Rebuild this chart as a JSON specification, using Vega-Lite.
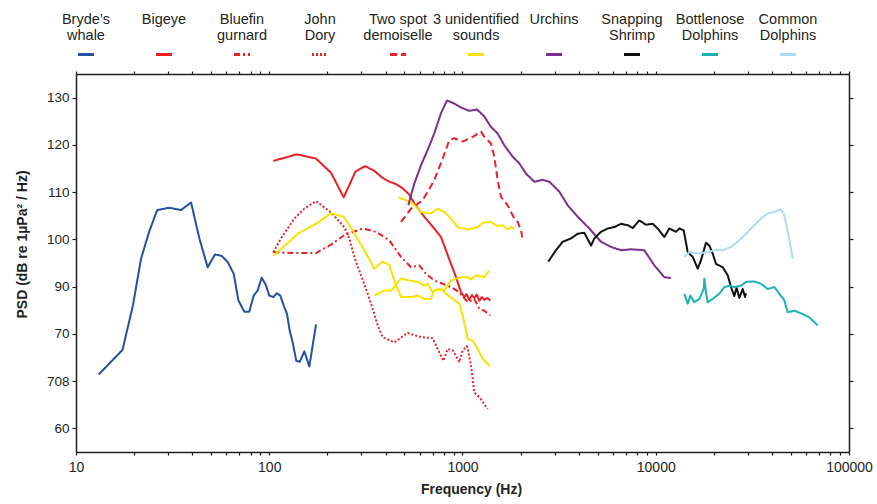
{
  "$schema": "https://vega.github.io/schema/vega-lite/v6.json",
  "padding": {"left": 15, "top": 9, "right": 5, "bottom": 5},
  "config": {"font": "Liberation Sans", "view": {"stroke": null}},
  "spacing": 5,
  "datasets": {
    "legend": [
      {"series": "Bryde’s whale", "label": "Bryde’s\nwhale"},
      {"series": "Bigeye", "label": "Bigeye"},
      {"series": "Bluefin gurnard", "label": "Bluefin\ngurnard"},
      {"series": "John Dory", "label": "John\nDory"},
      {"series": "Two spot demoiselle", "label": "Two spot\ndemoiselle"},
      {"series": "3 unidentified sounds", "label": "3 unidentified\nsounds"},
      {"series": "Urchins", "label": "Urchins"},
      {"series": "Snapping Shrimp", "label": "Snapping\nShrimp"},
      {"series": "Bottlenose Dolphins", "label": "Bottlenose\nDolphins"},
      {"series": "Common Dolphins", "label": "Common\nDolphins"}
    ],
    "curves": [
      {"series": "Bryde’s whale", "seg": "bw", "freq": 13.1, "psd": 71.4},
      {"series": "Bryde’s whale", "seg": "bw", "freq": 17.4, "psd": 76.6},
      {"series": "Bryde’s whale", "seg": "bw", "freq": 19.7, "psd": 86.0},
      {"series": "Bryde’s whale", "seg": "bw", "freq": 21.7, "psd": 95.9},
      {"series": "Bryde’s whale", "seg": "bw", "freq": 23.9, "psd": 101.6},
      {"series": "Bryde’s whale", "seg": "bw", "freq": 26.3, "psd": 106.2},
      {"series": "Bryde’s whale", "seg": "bw", "freq": 30.4, "psd": 106.7},
      {"series": "Bryde’s whale", "seg": "bw", "freq": 34.9, "psd": 106.2},
      {"series": "Bryde’s whale", "seg": "bw", "freq": 39.4, "psd": 107.8},
      {"series": "Bryde’s whale", "seg": "bw", "freq": 43.5, "psd": 100.2},
      {"series": "Bryde’s whale", "seg": "bw", "freq": 48.0, "psd": 94.1},
      {"series": "Bryde’s whale", "seg": "bw", "freq": 52.4, "psd": 96.8},
      {"series": "Bryde’s whale", "seg": "bw", "freq": 56.8, "psd": 96.5},
      {"series": "Bryde’s whale", "seg": "bw", "freq": 61.0, "psd": 95.2},
      {"series": "Bryde’s whale", "seg": "bw", "freq": 65.5, "psd": 92.7},
      {"series": "Bryde’s whale", "seg": "bw", "freq": 69.2, "psd": 87.1},
      {"series": "Bryde’s whale", "seg": "bw", "freq": 74.3, "psd": 84.7},
      {"series": "Bryde’s whale", "seg": "bw", "freq": 78.8, "psd": 84.7},
      {"series": "Bryde’s whale", "seg": "bw", "freq": 83.1, "psd": 88.1},
      {"series": "Bryde’s whale", "seg": "bw", "freq": 87.1, "psd": 89.2},
      {"series": "Bryde’s whale", "seg": "bw", "freq": 91.4, "psd": 91.9},
      {"series": "Bryde’s whale", "seg": "bw", "freq": 95.9, "psd": 90.4},
      {"series": "Bryde’s whale", "seg": "bw", "freq": 100, "psd": 88.1},
      {"series": "Bryde’s whale", "seg": "bw", "freq": 105, "psd": 87.8},
      {"series": "Bryde’s whale", "seg": "bw", "freq": 109.6, "psd": 88.6},
      {"series": "Bryde’s whale", "seg": "bw", "freq": 114, "psd": 88.1},
      {"series": "Bryde’s whale", "seg": "bw", "freq": 118.8, "psd": 86.0},
      {"series": "Bryde’s whale", "seg": "bw", "freq": 123.6, "psd": 84.2},
      {"series": "Bryde’s whale", "seg": "bw", "freq": 127.6, "psd": 80.7},
      {"series": "Bryde’s whale", "seg": "bw", "freq": 132.2, "psd": 78.2},
      {"series": "Bryde’s whale", "seg": "bw", "freq": 138, "psd": 74.3},
      {"series": "Bryde’s whale", "seg": "bw", "freq": 143.8, "psd": 74.1},
      {"series": "Bryde’s whale", "seg": "bw", "freq": 151.9, "psd": 76.3},
      {"series": "Bryde’s whale", "seg": "bw", "freq": 161.2, "psd": 73.1},
      {"series": "Bryde’s whale", "seg": "bw", "freq": 174.6, "psd": 82.0},

      {"series": "Bigeye", "seg": "be", "freq": 105, "psd": 116.6},
      {"series": "Bigeye", "seg": "be", "freq": 139, "psd": 118.0},
      {"series": "Bigeye", "seg": "be", "freq": 174.6, "psd": 117.1},
      {"series": "Bigeye", "seg": "be", "freq": 208.7, "psd": 114.1},
      {"series": "Bigeye", "seg": "be", "freq": 242.8, "psd": 108.9},
      {"series": "Bigeye", "seg": "be", "freq": 278.8, "psd": 114.3},
      {"series": "Bigeye", "seg": "be", "freq": 313, "psd": 115.5},
      {"series": "Bigeye", "seg": "be", "freq": 349.8, "psd": 114.5},
      {"series": "Bigeye", "seg": "be", "freq": 386, "psd": 113.0},
      {"series": "Bigeye", "seg": "be", "freq": 418, "psd": 112.2},
      {"series": "Bigeye", "seg": "be", "freq": 453, "psd": 111.7},
      {"series": "Bigeye", "seg": "be", "freq": 490, "psd": 110.8},
      {"series": "Bigeye", "seg": "be", "freq": 530, "psd": 109.5},
      {"series": "Bigeye", "seg": "be", "freq": 563, "psd": 107.6},
      {"series": "Bigeye", "seg": "be", "freq": 634, "psd": 104.8},
      {"series": "Bigeye", "seg": "be", "freq": 714, "psd": 102.3},
      {"series": "Bigeye", "seg": "be", "freq": 774, "psd": 100.5},
      {"series": "Bigeye", "seg": "be", "freq": 821, "psd": 97.7},
      {"series": "Bigeye", "seg": "be", "freq": 872, "psd": 94.8},
      {"series": "Bigeye", "seg": "be", "freq": 925.7, "psd": 92.0},
      {"series": "Bigeye", "seg": "be", "freq": 982, "psd": 88.8},
      {"series": "Bigeye", "seg": "be", "freq": 1022, "psd": 87.8},
      {"series": "Bigeye", "seg": "be", "freq": 1050, "psd": 88.4},
      {"series": "Bigeye", "seg": "be", "freq": 1084, "psd": 87.2},
      {"series": "Bigeye", "seg": "be", "freq": 1120, "psd": 88.2},
      {"series": "Bigeye", "seg": "be", "freq": 1151, "psd": 87.6},
      {"series": "Bigeye", "seg": "be", "freq": 1185, "psd": 88.3},
      {"series": "Bigeye", "seg": "be", "freq": 1222, "psd": 87.0},
      {"series": "Bigeye", "seg": "be", "freq": 1260, "psd": 87.8},
      {"series": "Bigeye", "seg": "be", "freq": 1297, "psd": 87.2},
      {"series": "Bigeye", "seg": "be", "freq": 1340, "psd": 87.6},
      {"series": "Bigeye", "seg": "be", "freq": 1393, "psd": 87.1},

      {"series": "Bluefin gurnard", "seg": "bg", "freq": 105, "psd": 97.3},
      {"series": "Bluefin gurnard", "seg": "bg", "freq": 134.8, "psd": 97.1},
      {"series": "Bluefin gurnard", "seg": "bg", "freq": 174.6, "psd": 97.1},
      {"series": "Bluefin gurnard", "seg": "bg", "freq": 208.7, "psd": 98.9},
      {"series": "Bluefin gurnard", "seg": "bg", "freq": 244.5, "psd": 100.9},
      {"series": "Bluefin gurnard", "seg": "bg", "freq": 304.5, "psd": 102.3},
      {"series": "Bluefin gurnard", "seg": "bg", "freq": 356.7, "psd": 101.6},
      {"series": "Bluefin gurnard", "seg": "bg", "freq": 418, "psd": 99.8},
      {"series": "Bluefin gurnard", "seg": "bg", "freq": 480.6, "psd": 96.3},
      {"series": "Bluefin gurnard", "seg": "bg", "freq": 541.5, "psd": 94.1},
      {"series": "Bluefin gurnard", "seg": "bg", "freq": 597.6, "psd": 94.5},
      {"series": "Bluefin gurnard", "seg": "bg", "freq": 647.5, "psd": 92.7},
      {"series": "Bluefin gurnard", "seg": "bg", "freq": 714, "psd": 91.3},
      {"series": "Bluefin gurnard", "seg": "bg", "freq": 790, "psd": 90.6},
      {"series": "Bluefin gurnard", "seg": "bg", "freq": 872, "psd": 89.9},
      {"series": "Bluefin gurnard", "seg": "bg", "freq": 963, "psd": 88.8},
      {"series": "Bluefin gurnard", "seg": "bg", "freq": 1064, "psd": 86.7},
      {"series": "Bluefin gurnard", "seg": "bg", "freq": 1151, "psd": 87.4},
      {"series": "Bluefin gurnard", "seg": "bg", "freq": 1222, "psd": 85.3},
      {"series": "Bluefin gurnard", "seg": "bg", "freq": 1297, "psd": 84.9},
      {"series": "Bluefin gurnard", "seg": "bg", "freq": 1393, "psd": 83.9},

      {"series": "John Dory", "seg": "jd", "freq": 105, "psd": 97.3},
      {"series": "John Dory", "seg": "jd", "freq": 115, "psd": 100.2},
      {"series": "John Dory", "seg": "jd", "freq": 134.8, "psd": 104.4},
      {"series": "John Dory", "seg": "jd", "freq": 151.9, "psd": 106.5},
      {"series": "John Dory", "seg": "jd", "freq": 174.6, "psd": 108.1},
      {"series": "John Dory", "seg": "jd", "freq": 208.7, "psd": 105.7},
      {"series": "John Dory", "seg": "jd", "freq": 244.5, "psd": 102.6},
      {"series": "John Dory", "seg": "jd", "freq": 259.5, "psd": 100.2},
      {"series": "John Dory", "seg": "jd", "freq": 281, "psd": 95.2},
      {"series": "John Dory", "seg": "jd", "freq": 298.5, "psd": 92.4},
      {"series": "John Dory", "seg": "jd", "freq": 316.7, "psd": 89.5},
      {"series": "John Dory", "seg": "jd", "freq": 343, "psd": 85.3},
      {"series": "John Dory", "seg": "jd", "freq": 364, "psd": 81.8},
      {"series": "John Dory", "seg": "jd", "freq": 386, "psd": 79.3},
      {"series": "John Dory", "seg": "jd", "freq": 443.6, "psd": 78.2},
      {"series": "John Dory", "seg": "jd", "freq": 520, "psd": 80.2},
      {"series": "John Dory", "seg": "jd", "freq": 610, "psd": 79.3},
      {"series": "John Dory", "seg": "jd", "freq": 701, "psd": 79.1},
      {"series": "John Dory", "seg": "jd", "freq": 744, "psd": 76.8},
      {"series": "John Dory", "seg": "jd", "freq": 795.6, "psd": 74.3},
      {"series": "John Dory", "seg": "jd", "freq": 838, "psd": 76.8},
      {"series": "John Dory", "seg": "jd", "freq": 890, "psd": 76.5},
      {"series": "John Dory", "seg": "jd", "freq": 963, "psd": 74.0},
      {"series": "John Dory", "seg": "jd", "freq": 1002, "psd": 76.5},
      {"series": "John Dory", "seg": "jd", "freq": 1055, "psd": 77.4},
      {"series": "John Dory", "seg": "jd", "freq": 1107, "psd": 73.3},
      {"series": "John Dory", "seg": "jd", "freq": 1151, "psd": 67.6},
      {"series": "John Dory", "seg": "jd", "freq": 1222, "psd": 66.6},
      {"series": "John Dory", "seg": "jd", "freq": 1350, "psd": 64.1},

      {"series": "Two spot demoiselle", "seg": "ts", "freq": 480.6, "psd": 103.7},
      {"series": "Two spot demoiselle", "seg": "ts", "freq": 541.5, "psd": 106.5},
      {"series": "Two spot demoiselle", "seg": "ts", "freq": 622, "psd": 108.3},
      {"series": "Two spot demoiselle", "seg": "ts", "freq": 660, "psd": 110.1},
      {"series": "Two spot demoiselle", "seg": "ts", "freq": 714, "psd": 112.5},
      {"series": "Two spot demoiselle", "seg": "ts", "freq": 790, "psd": 117.1},
      {"series": "Two spot demoiselle", "seg": "ts", "freq": 854.6, "psd": 121.0},
      {"series": "Two spot demoiselle", "seg": "ts", "freq": 907, "psd": 121.4},
      {"series": "Two spot demoiselle", "seg": "ts", "freq": 1002, "psd": 120.7},
      {"series": "Two spot demoiselle", "seg": "ts", "freq": 1129, "psd": 121.7},
      {"series": "Two spot demoiselle", "seg": "ts", "freq": 1246, "psd": 122.8},
      {"series": "Two spot demoiselle", "seg": "ts", "freq": 1297, "psd": 121.7},
      {"series": "Two spot demoiselle", "seg": "ts", "freq": 1404, "psd": 120.3},
      {"series": "Two spot demoiselle", "seg": "ts", "freq": 1461, "psd": 117.5},
      {"series": "Two spot demoiselle", "seg": "ts", "freq": 1521, "psd": 112.5},
      {"series": "Two spot demoiselle", "seg": "ts", "freq": 1582, "psd": 109.0},
      {"series": "Two spot demoiselle", "seg": "ts", "freq": 1714, "psd": 107.2},
      {"series": "Two spot demoiselle", "seg": "ts", "freq": 1782, "psd": 105.8},
      {"series": "Two spot demoiselle", "seg": "ts", "freq": 1854, "psd": 104.4},
      {"series": "Two spot demoiselle", "seg": "ts", "freq": 1931, "psd": 103.7},
      {"series": "Two spot demoiselle", "seg": "ts", "freq": 2008, "psd": 101.9},
      {"series": "Two spot demoiselle", "seg": "ts", "freq": 2040, "psd": 100.4},

      {"series": "3 unidentified sounds", "seg": "u1", "freq": 105, "psd": 96.5},
      {"series": "3 unidentified sounds", "seg": "u1", "freq": 140.4, "psd": 101.2},
      {"series": "3 unidentified sounds", "seg": "u1", "freq": 174.6, "psd": 103.3},
      {"series": "3 unidentified sounds", "seg": "u1", "freq": 208.7, "psd": 105.5},
      {"series": "3 unidentified sounds", "seg": "u1", "freq": 242.8, "psd": 104.8},
      {"series": "3 unidentified sounds", "seg": "u1", "freq": 270.3, "psd": 101.9},
      {"series": "3 unidentified sounds", "seg": "u1", "freq": 310.4, "psd": 97.7},
      {"series": "3 unidentified sounds", "seg": "u1", "freq": 349.8, "psd": 93.8},
      {"series": "3 unidentified sounds", "seg": "u1", "freq": 386, "psd": 95.3},
      {"series": "3 unidentified sounds", "seg": "u1", "freq": 418, "psd": 94.6},
      {"series": "3 unidentified sounds", "seg": "u1", "freq": 443.6, "psd": 91.3},
      {"series": "3 unidentified sounds", "seg": "u1", "freq": 480.6, "psd": 87.8},
      {"series": "3 unidentified sounds", "seg": "u1", "freq": 541.5, "psd": 87.8},
      {"series": "3 unidentified sounds", "seg": "u1", "freq": 586.5, "psd": 88.1},
      {"series": "3 unidentified sounds", "seg": "u1", "freq": 634, "psd": 87.4},
      {"series": "3 unidentified sounds", "seg": "u1", "freq": 687, "psd": 87.4},
      {"series": "3 unidentified sounds", "seg": "u1", "freq": 714, "psd": 89.2},
      {"series": "3 unidentified sounds", "seg": "u1", "freq": 774, "psd": 89.5},
      {"series": "3 unidentified sounds", "seg": "u1", "freq": 821, "psd": 88.5},
      {"series": "3 unidentified sounds", "seg": "u1", "freq": 890, "psd": 87.4},
      {"series": "3 unidentified sounds", "seg": "u1", "freq": 963, "psd": 86.4},
      {"series": "3 unidentified sounds", "seg": "u1", "freq": 1002, "psd": 83.9},
      {"series": "3 unidentified sounds", "seg": "u1", "freq": 1064, "psd": 78.9},
      {"series": "3 unidentified sounds", "seg": "u1", "freq": 1129, "psd": 78.6},
      {"series": "3 unidentified sounds", "seg": "u1", "freq": 1199, "psd": 76.8},
      {"series": "3 unidentified sounds", "seg": "u1", "freq": 1272, "psd": 74.7},
      {"series": "3 unidentified sounds", "seg": "u1", "freq": 1376, "psd": 73.3},
      {"series": "3 unidentified sounds", "seg": "u2", "freq": 349.8, "psd": 88.1},
      {"series": "3 unidentified sounds", "seg": "u2", "freq": 394, "psd": 89.2},
      {"series": "3 unidentified sounds", "seg": "u2", "freq": 426.6, "psd": 89.1},
      {"series": "3 unidentified sounds", "seg": "u2", "freq": 480.6, "psd": 91.7},
      {"series": "3 unidentified sounds", "seg": "u2", "freq": 530, "psd": 91.3},
      {"series": "3 unidentified sounds", "seg": "u2", "freq": 586.5, "psd": 91.0},
      {"series": "3 unidentified sounds", "seg": "u2", "freq": 634, "psd": 90.2},
      {"series": "3 unidentified sounds", "seg": "u2", "freq": 660, "psd": 90.6},
      {"series": "3 unidentified sounds", "seg": "u2", "freq": 701, "psd": 88.8},
      {"series": "3 unidentified sounds", "seg": "u2", "freq": 744, "psd": 89.5},
      {"series": "3 unidentified sounds", "seg": "u2", "freq": 805, "psd": 89.2},
      {"series": "3 unidentified sounds", "seg": "u2", "freq": 872, "psd": 91.3},
      {"series": "3 unidentified sounds", "seg": "u2", "freq": 926, "psd": 91.7},
      {"series": "3 unidentified sounds", "seg": "u2", "freq": 1002, "psd": 92.0},
      {"series": "3 unidentified sounds", "seg": "u2", "freq": 1064, "psd": 92.0},
      {"series": "3 unidentified sounds", "seg": "u2", "freq": 1107, "psd": 91.5},
      {"series": "3 unidentified sounds", "seg": "u2", "freq": 1175, "psd": 92.4},
      {"series": "3 unidentified sounds", "seg": "u2", "freq": 1297, "psd": 92.0},
      {"series": "3 unidentified sounds", "seg": "u2", "freq": 1376, "psd": 93.4},
      {"series": "3 unidentified sounds", "seg": "u3", "freq": 465.5, "psd": 108.9},
      {"series": "3 unidentified sounds", "seg": "u3", "freq": 510, "psd": 108.3},
      {"series": "3 unidentified sounds", "seg": "u3", "freq": 552, "psd": 107.6},
      {"series": "3 unidentified sounds", "seg": "u3", "freq": 610, "psd": 105.8},
      {"series": "3 unidentified sounds", "seg": "u3", "freq": 687, "psd": 105.5},
      {"series": "3 unidentified sounds", "seg": "u3", "freq": 744, "psd": 106.5},
      {"series": "3 unidentified sounds", "seg": "u3", "freq": 805, "psd": 105.8},
      {"series": "3 unidentified sounds", "seg": "u3", "freq": 872, "psd": 104.4},
      {"series": "3 unidentified sounds", "seg": "u3", "freq": 944.6, "psd": 102.6},
      {"series": "3 unidentified sounds", "seg": "u3", "freq": 1064, "psd": 102.1},
      {"series": "3 unidentified sounds", "seg": "u3", "freq": 1199, "psd": 102.6},
      {"series": "3 unidentified sounds", "seg": "u3", "freq": 1272, "psd": 103.5},
      {"series": "3 unidentified sounds", "seg": "u3", "freq": 1404, "psd": 103.7},
      {"series": "3 unidentified sounds", "seg": "u3", "freq": 1521, "psd": 102.8},
      {"series": "3 unidentified sounds", "seg": "u3", "freq": 1614, "psd": 103.0},
      {"series": "3 unidentified sounds", "seg": "u3", "freq": 1714, "psd": 102.1},
      {"series": "3 unidentified sounds", "seg": "u3", "freq": 1782, "psd": 102.6},
      {"series": "3 unidentified sounds", "seg": "u3", "freq": 1854, "psd": 102.3},

      {"series": "Urchins", "seg": "ur", "freq": 524, "psd": 107.2},
      {"series": "Urchins", "seg": "ur", "freq": 563, "psd": 111.8},
      {"series": "Urchins", "seg": "ur", "freq": 610, "psd": 115.7},
      {"series": "Urchins", "seg": "ur", "freq": 660, "psd": 118.9},
      {"series": "Urchins", "seg": "ur", "freq": 714, "psd": 122.4},
      {"series": "Urchins", "seg": "ur", "freq": 774, "psd": 126.7},
      {"series": "Urchins", "seg": "ur", "freq": 831, "psd": 129.4},
      {"series": "Urchins", "seg": "ur", "freq": 890, "psd": 128.9},
      {"series": "Urchins", "seg": "ur", "freq": 982, "psd": 127.9},
      {"series": "Urchins", "seg": "ur", "freq": 1084, "psd": 127.2},
      {"series": "Urchins", "seg": "ur", "freq": 1189, "psd": 127.5},
      {"series": "Urchins", "seg": "ur", "freq": 1297, "psd": 126.0},
      {"series": "Urchins", "seg": "ur", "freq": 1404, "psd": 123.8},
      {"series": "Urchins", "seg": "ur", "freq": 1521, "psd": 122.4},
      {"series": "Urchins", "seg": "ur", "freq": 1646, "psd": 119.9},
      {"series": "Urchins", "seg": "ur", "freq": 1819, "psd": 117.5},
      {"series": "Urchins", "seg": "ur", "freq": 1968, "psd": 116.1},
      {"series": "Urchins", "seg": "ur", "freq": 2132, "psd": 113.9},
      {"series": "Urchins", "seg": "ur", "freq": 2353, "psd": 112.2},
      {"series": "Urchins", "seg": "ur", "freq": 2600, "psd": 112.6},
      {"series": "Urchins", "seg": "ur", "freq": 2813, "psd": 112.2},
      {"series": "Urchins", "seg": "ur", "freq": 3170, "psd": 110.1},
      {"series": "Urchins", "seg": "ur", "freq": 3503, "psd": 107.2},
      {"series": "Urchins", "seg": "ur", "freq": 3946, "psd": 104.8},
      {"series": "Urchins", "seg": "ur", "freq": 4531, "psd": 102.3},
      {"series": "Urchins", "seg": "ur", "freq": 5209, "psd": 99.5},
      {"series": "Urchins", "seg": "ur", "freq": 5866, "psd": 98.4},
      {"series": "Urchins", "seg": "ur", "freq": 6610, "psd": 97.7},
      {"series": "Urchins", "seg": "ur", "freq": 7446, "psd": 97.9},
      {"series": "Urchins", "seg": "ur", "freq": 8727, "psd": 97.7},
      {"series": "Urchins", "seg": "ur", "freq": 9829, "psd": 94.5},
      {"series": "Urchins", "seg": "ur", "freq": 11075, "psd": 92.0},
      {"series": "Urchins", "seg": "ur", "freq": 11992, "psd": 91.8},

      {"series": "Snapping Shrimp", "seg": "sh", "freq": 2780, "psd": 95.3},
      {"series": "Snapping Shrimp", "seg": "sh", "freq": 3046, "psd": 97.7},
      {"series": "Snapping Shrimp", "seg": "sh", "freq": 3300, "psd": 99.5},
      {"series": "Snapping Shrimp", "seg": "sh", "freq": 3642, "psd": 100.2},
      {"series": "Snapping Shrimp", "seg": "sh", "freq": 3946, "psd": 101.2},
      {"series": "Snapping Shrimp", "seg": "sh", "freq": 4269, "psd": 101.4},
      {"series": "Snapping Shrimp", "seg": "sh", "freq": 4624, "psd": 98.7},
      {"series": "Snapping Shrimp", "seg": "sh", "freq": 4809, "psd": 100.2},
      {"series": "Snapping Shrimp", "seg": "sh", "freq": 5209, "psd": 101.6},
      {"series": "Snapping Shrimp", "seg": "sh", "freq": 5641, "psd": 102.3},
      {"series": "Snapping Shrimp", "seg": "sh", "freq": 6105, "psd": 102.6},
      {"series": "Snapping Shrimp", "seg": "sh", "freq": 6610, "psd": 103.3},
      {"series": "Snapping Shrimp", "seg": "sh", "freq": 7158, "psd": 103.0},
      {"series": "Snapping Shrimp", "seg": "sh", "freq": 7598, "psd": 102.4},
      {"series": "Snapping Shrimp", "seg": "sh", "freq": 8220, "psd": 104.0},
      {"series": "Snapping Shrimp", "seg": "sh", "freq": 8903, "psd": 103.1},
      {"series": "Snapping Shrimp", "seg": "sh", "freq": 9643, "psd": 103.3},
      {"series": "Snapping Shrimp", "seg": "sh", "freq": 10235, "psd": 102.3},
      {"series": "Snapping Shrimp", "seg": "sh", "freq": 11075, "psd": 100.5},
      {"series": "Snapping Shrimp", "seg": "sh", "freq": 11753, "psd": 102.3},
      {"series": "Snapping Shrimp", "seg": "sh", "freq": 12727, "psd": 101.6},
      {"series": "Snapping Shrimp", "seg": "sh", "freq": 13244, "psd": 102.3},
      {"series": "Snapping Shrimp", "seg": "sh", "freq": 13956, "psd": 101.9},
      {"series": "Snapping Shrimp", "seg": "sh", "freq": 14636, "psd": 97.3},
      {"series": "Snapping Shrimp", "seg": "sh", "freq": 15535, "psd": 96.3},
      {"series": "Snapping Shrimp", "seg": "sh", "freq": 16487, "psd": 93.8},
      {"series": "Snapping Shrimp", "seg": "sh", "freq": 17149, "psd": 95.6},
      {"series": "Snapping Shrimp", "seg": "sh", "freq": 18197, "psd": 99.3},
      {"series": "Snapping Shrimp", "seg": "sh", "freq": 18928, "psd": 98.7},
      {"series": "Snapping Shrimp", "seg": "sh", "freq": 19711, "psd": 97.0},
      {"series": "Snapping Shrimp", "seg": "sh", "freq": 20500, "psd": 94.8},
      {"series": "Snapping Shrimp", "seg": "sh", "freq": 22215, "psd": 94.1},
      {"series": "Snapping Shrimp", "seg": "sh", "freq": 23572, "psd": 92.4},
      {"series": "Snapping Shrimp", "seg": "sh", "freq": 24511, "psd": 89.9},
      {"series": "Snapping Shrimp", "seg": "sh", "freq": 25498, "psd": 88.0},
      {"series": "Snapping Shrimp", "seg": "sh", "freq": 26200, "psd": 89.8},
      {"series": "Snapping Shrimp", "seg": "sh", "freq": 27058, "psd": 87.6},
      {"series": "Snapping Shrimp", "seg": "sh", "freq": 28182, "psd": 89.5},
      {"series": "Snapping Shrimp", "seg": "sh", "freq": 28967, "psd": 87.8},
      {"series": "Snapping Shrimp", "seg": "sh", "freq": 29309, "psd": 88.6},

      {"series": "Bottlenose Dolphins", "seg": "bn", "freq": 14056, "psd": 88.5},
      {"series": "Bottlenose Dolphins", "seg": "bn", "freq": 14636, "psd": 86.4},
      {"series": "Bottlenose Dolphins", "seg": "bn", "freq": 15097, "psd": 88.1},
      {"series": "Bottlenose Dolphins", "seg": "bn", "freq": 15830, "psd": 86.7},
      {"series": "Bottlenose Dolphins", "seg": "bn", "freq": 16807, "psd": 87.4},
      {"series": "Bottlenose Dolphins", "seg": "bn", "freq": 17713, "psd": 89.5},
      {"series": "Bottlenose Dolphins", "seg": "bn", "freq": 17840, "psd": 91.7},
      {"series": "Bottlenose Dolphins", "seg": "bn", "freq": 18197, "psd": 88.8},
      {"series": "Bottlenose Dolphins", "seg": "bn", "freq": 18570, "psd": 86.7},
      {"series": "Bottlenose Dolphins", "seg": "bn", "freq": 19711, "psd": 87.4},
      {"series": "Bottlenose Dolphins", "seg": "bn", "freq": 21326, "psd": 88.5},
      {"series": "Bottlenose Dolphins", "seg": "bn", "freq": 22631, "psd": 89.9},
      {"series": "Bottlenose Dolphins", "seg": "bn", "freq": 24029, "psd": 90.2},
      {"series": "Bottlenose Dolphins", "seg": "bn", "freq": 25498, "psd": 89.9},
      {"series": "Bottlenose Dolphins", "seg": "bn", "freq": 27614, "psd": 90.2},
      {"series": "Bottlenose Dolphins", "seg": "bn", "freq": 29309, "psd": 91.0},
      {"series": "Bottlenose Dolphins", "seg": "bn", "freq": 32360, "psd": 91.1},
      {"series": "Bottlenose Dolphins", "seg": "bn", "freq": 35040, "psd": 90.6},
      {"series": "Bottlenose Dolphins", "seg": "bn", "freq": 37959, "psd": 89.5},
      {"series": "Bottlenose Dolphins", "seg": "bn", "freq": 41067, "psd": 89.9},
      {"series": "Bottlenose Dolphins", "seg": "bn", "freq": 43590, "psd": 88.5},
      {"series": "Bottlenose Dolphins", "seg": "bn", "freq": 46270, "psd": 87.1},
      {"series": "Bottlenose Dolphins", "seg": "bn", "freq": 48170, "psd": 84.6},
      {"series": "Bottlenose Dolphins", "seg": "bn", "freq": 52120, "psd": 84.9},
      {"series": "Bottlenose Dolphins", "seg": "bn", "freq": 57600, "psd": 84.2},
      {"series": "Bottlenose Dolphins", "seg": "bn", "freq": 62320, "psd": 83.5},
      {"series": "Bottlenose Dolphins", "seg": "bn", "freq": 64910, "psd": 82.8},
      {"series": "Bottlenose Dolphins", "seg": "bn", "freq": 68870, "psd": 81.8},

      {"series": "Common Dolphins", "seg": "cd", "freq": 14056, "psd": 96.3},
      {"series": "Common Dolphins", "seg": "cd", "freq": 14920, "psd": 97.3},
      {"series": "Common Dolphins", "seg": "cd", "freq": 16487, "psd": 97.0},
      {"series": "Common Dolphins", "seg": "cd", "freq": 18570, "psd": 97.3},
      {"series": "Common Dolphins", "seg": "cd", "freq": 20090, "psd": 97.7},
      {"series": "Common Dolphins", "seg": "cd", "freq": 22215, "psd": 97.7},
      {"series": "Common Dolphins", "seg": "cd", "freq": 24511, "psd": 98.4},
      {"series": "Common Dolphins", "seg": "cd", "freq": 26555, "psd": 99.5},
      {"series": "Common Dolphins", "seg": "cd", "freq": 29309, "psd": 101.2},
      {"series": "Common Dolphins", "seg": "cd", "freq": 32360, "psd": 103.0},
      {"series": "Common Dolphins", "seg": "cd", "freq": 35040, "psd": 104.4},
      {"series": "Common Dolphins", "seg": "cd", "freq": 37959, "psd": 105.5},
      {"series": "Common Dolphins", "seg": "cd", "freq": 41067, "psd": 105.8},
      {"series": "Common Dolphins", "seg": "cd", "freq": 44480, "psd": 106.4},
      {"series": "Common Dolphins", "seg": "cd", "freq": 46270, "psd": 105.1},
      {"series": "Common Dolphins", "seg": "cd", "freq": 48170, "psd": 101.6},
      {"series": "Common Dolphins", "seg": "cd", "freq": 50115, "psd": 98.0},
      {"series": "Common Dolphins", "seg": "cd", "freq": 51140, "psd": 95.9}
    ]
  },
  "vconcat": [
    {
      "width": 722,
      "height": 56,
      "data": {"name": "legend"},
      "encoding": {
        "x": {"field": "series", "type": "nominal", "axis": null,
          "scale": {"type": "point", "padding": 0.128,
            "domain": ["Bryde’s whale", "Bigeye", "Bluefin gurnard", "John Dory", "Two spot demoiselle", "3 unidentified sounds", "Urchins", "Snapping Shrimp", "Bottlenose Dolphins", "Common Dolphins"]}}
      },
      "layer": [
        {
          "mark": {"type": "text", "align": "center", "baseline": "middle", "fontSize": 14.5, "lineHeight": 16, "lineBreak": "\n", "color": "#231f20"},
          "encoding": {
            "y": {"datum": "label", "type": "nominal", "axis": null, "scale": {"type": "point", "domain": ["label", "swatch"], "padding": 0.3}},
            "text": {"field": "label"}
          }
        },
        {
          "mark": {"type": "point", "shape": "stroke", "filled": false, "strokeWidth": 3, "opacity": 1, "strokeCap": "butt"},
          "encoding": {
            "y": {"datum": "swatch", "type": "nominal"},
            "color": {"field": "series", "type": "nominal", "legend": null,
              "scale": {"domain": ["Bryde’s whale", "Bigeye", "Bluefin gurnard", "John Dory", "Two spot demoiselle", "3 unidentified sounds", "Urchins", "Snapping Shrimp", "Bottlenose Dolphins", "Common Dolphins"],
                "range": ["#2350a3", "#e82127", "#e82127", "#e82127", "#e82127", "#f5e400", "#7d2e8f", "#111111", "#1ab3b3", "#abdcf2"]}},
            "strokeDash": {"field": "series", "type": "nominal", "legend": null,
              "scale": {"domain": ["Bryde’s whale", "Bigeye", "Bluefin gurnard", "John Dory", "Two spot demoiselle", "3 unidentified sounds", "Urchins", "Snapping Shrimp", "Bottlenose Dolphins", "Common Dolphins"],
                "range": [[1, 0], [1, 0], [6, 3, 2, 3], [2, 2], [7, 4], [1, 0], [1, 0], [1, 0], [1, 0], [1, 0]]}},
            "size": {"field": "series", "type": "nominal", "legend": null,
              "scale": {"domain": ["Bryde’s whale", "Bigeye", "Bluefin gurnard", "John Dory", "Two spot demoiselle", "3 unidentified sounds", "Urchins", "Snapping Shrimp", "Bottlenose Dolphins", "Common Dolphins"],
                "range": [256, 256, 484, 576, 729, 256, 256, 256, 256, 256]}}
          }
        }
      ]
    },
    {
      "width": 773,
      "height": 378,
      "data": {"name": "curves"},
      "layer": [
        {
          "mark": {"type": "line", "strokeCap": "butt", "strokeJoin": "round"},
          "encoding": {
            "x": {"field": "freq", "type": "quantitative",
              "scale": {"type": "log", "domain": [10, 100000], "nice": false},
              "axis": {"orient": "bottom", "title": "Frequency (Hz)", "grid": false,
                "values": [10, 20, 30, 40, 50, 60, 70, 80, 90, 100, 200, 300, 400, 500, 600, 700, 800, 900, 1000, 2000, 3000, 4000, 5000, 6000, 7000, 8000, 9000, 10000, 20000, 30000, 40000, 50000, 60000, 70000, 80000, 90000, 100000],
                "labelExpr": "indexof([10, 100, 1000, 10000, 100000], datum.value) >= 0 ? format(datum.value, 'd') : ''",
                "labelFlush": false, "labelOverlap": false, "labelFontSize": 14, "labelPadding": 5, "labelColor": "#231f20",
                "tickSize": 3, "tickColor": "#231f20", "tickWidth": 1.2,
                "domainColor": "#231f20", "domainWidth": 1.5,
                "titleFontSize": 14, "titleFontWeight": "bold", "titleColor": "#231f20", "titlePadding": 8, "titleX": 395}},
            "y": {"field": "psd", "type": "quantitative",
              "scale": {"domain": [55, 135], "nice": false, "zero": false},
              "axis": {"orient": "left", "title": "PSD (dB re 1µPa² / Hz)", "grid": false,
                "values": [60, 70, 80, 90, 100, 110, 120, 130],
                "labelExpr": "datum.value == 80 ? '70' : datum.value == 70 ? '708' : datum.label",
                "labelFontSize": 13.5, "labelPadding": 3, "labelColor": "#231f20",
                "tickSize": 4, "tickColor": "#231f20", "tickWidth": 1.2,
                "domainColor": "#231f20", "domainWidth": 1.5,
                "titleFontSize": 14, "titleFontWeight": "bold", "titleColor": "#231f20", "titlePadding": 17, "titleY": 170}},
            "color": {"field": "series", "type": "nominal", "legend": null,
              "scale": {"domain": ["Bryde’s whale", "Bigeye", "Bluefin gurnard", "John Dory", "Two spot demoiselle", "3 unidentified sounds", "Urchins", "Snapping Shrimp", "Bottlenose Dolphins", "Common Dolphins"],
                "range": ["#2350a3", "#e82127", "#e82127", "#e82127", "#e82127", "#f5e400", "#7d2e8f", "#111111", "#1ab3b3", "#abdcf2"]}},
            "strokeDash": {"field": "series", "type": "nominal", "legend": null,
              "scale": {"domain": ["Bryde’s whale", "Bigeye", "Bluefin gurnard", "John Dory", "Two spot demoiselle", "3 unidentified sounds", "Urchins", "Snapping Shrimp", "Bottlenose Dolphins", "Common Dolphins"],
                "range": [[1, 0], [1, 0], [6, 3, 2, 3], [2, 2], [7, 4], [1, 0], [1, 0], [1, 0], [1, 0], [1, 0]]}},
            "strokeWidth": {"field": "series", "type": "nominal", "legend": null,
              "scale": {"domain": ["Bryde’s whale", "Bigeye", "Bluefin gurnard", "John Dory", "Two spot demoiselle", "3 unidentified sounds", "Urchins", "Snapping Shrimp", "Bottlenose Dolphins", "Common Dolphins"],
                "range": [2, 2, 2, 2, 2, 2, 2, 2.5, 2.5, 3.5]}},
            "detail": {"field": "seg", "type": "nominal"}
          }
        },
        {
          "mark": {"type": "line", "opacity": 0},
          "encoding": {
            "x": {"field": "freq", "type": "quantitative",
              "axis": {"orient": "top", "title": null, "labels": false, "grid": false,
                "values": [10, 20, 30, 40, 50, 60, 70, 80, 90, 100, 200, 300, 400, 500, 600, 700, 800, 900, 1000, 2000, 3000, 4000, 5000, 6000, 7000, 8000, 9000, 10000, 20000, 30000, 40000, 50000, 60000, 70000, 80000, 90000, 100000],
                "tickSize": 3, "tickColor": "#231f20", "tickWidth": 1.2, "domainColor": "#231f20", "domainWidth": 1.5}},
            "y": {"field": "psd", "type": "quantitative",
              "axis": {"orient": "right", "title": null, "labels": false, "grid": false,
                "values": [60, 70, 80, 90, 100, 110, 120, 130],
                "tickSize": 4, "tickColor": "#231f20", "tickWidth": 1.2, "domainColor": "#231f20", "domainWidth": 1.5}},
            "detail": {"field": "seg", "type": "nominal"}
          }
        }
      ],
      "resolve": {"axis": {"x": "independent", "y": "independent"}}
    }
  ]
}
